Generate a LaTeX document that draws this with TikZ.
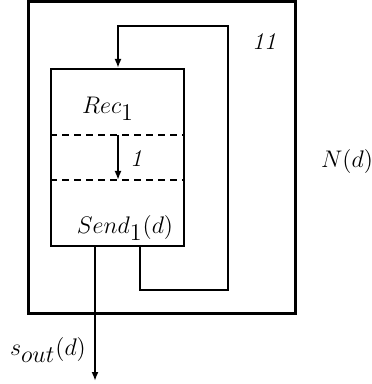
\documentclass[tikz,border=0pt]{standalone}
\usetikzlibrary{arrows.meta,positioning}
\newcommand{\lowsub}[1]{_{\textstyle #1}}

\begin{document}
\begin{tikzpicture}[x=0.5pt,y=-0.5pt,>={Latex[length=4.5pt,width=3.5pt]},every node/.style={font=\large},
  frame/.style={draw,line width=1.5pt,inner sep=0pt,minimum width=133.5pt,minimum height=155.5pt},
  proc/.style={draw,line width=1pt,inner sep=0pt,minimum width=66.5pt,minimum height=88.5pt},
  wire/.style={line width=1pt},
  split/.style={line width=1pt,dash pattern=on 3.5pt off 2.5pt}]
\useasboundingbox (0,0) rectangle (371,384);
\node[frame] (net) at (161.5,157.5) {};
\node[proc] (agent) at (117.5,157.5) {};
\node (rec) at (108,109) {$Rec\lowsub{1}$};
\node (send) at (125,228) {$Send\lowsub{1}(d)$};
\node (one) at (136,159) {\textit{1}};
\node (eleven) at (264,42) {\textit{11}};
\node (netlabel) at (347,162) {$N(d)$};
\node (sout) at (48,350) {$s\lowsub{out}(d)$};
% cuts inside the agent
\coordinate (cutA) at (0,135);
\coordinate (cutB) at (0,180);
\draw[split] (agent.west |- cutA) -- (agent.east |- cutA);
\draw[split] (agent.west |- cutB) -- (agent.east |- cutB);
% feedback loop
\coordinate (back) at (140,0);
\coordinate (turn) at (228,290);
\coordinate (top) at (118,26);
\coordinate (in) at (118,0);
\draw[wire,->] (agent.south -| back) |- (turn) |- (top) -- (agent.north -| in);
\draw[wire,->] (in |- cutA) -- (in |- cutB);
% output
\coordinate (outx) at (95,0);
\coordinate (outend) at (95,381);
\draw[wire,->] (agent.south -| outx) -- (outend);
\end{tikzpicture}
\end{document}
